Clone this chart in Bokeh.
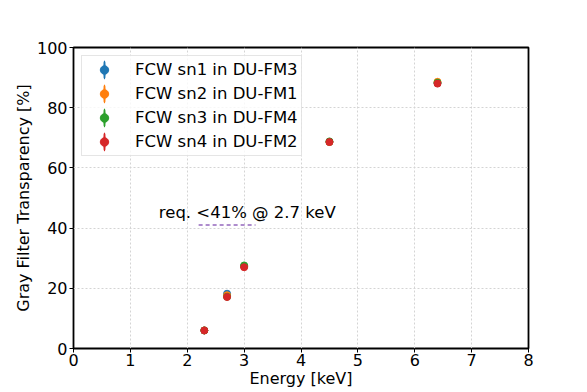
from bokeh.plotting import figure
from bokeh.models import Legend, LegendItem, Label, Range1d, FixedTicker
from bokeh.embed import file_html
from bokeh.resources import INLINE

energy = [2.3, 2.7, 3.0, 4.5, 6.4]
sn1_fm3 = [6.0, 18.2, 27.3, 68.6, 88.2]
sn2_fm1 = [6.0, 17.7, 27.3, 68.6, 88.6]
sn3_fm4 = [6.0, 17.2, 27.6, 68.8, 88.3]
sn4_fm2 = [6.0, 17.1, 27.0, 68.6, 88.0]
series_names = ["FCW sn1 in DU-FM3", "FCW sn2 in DU-FM1", "FCW sn3 in DU-FM4", "FCW sn4 in DU-FM2"]
series_values = [sn1_fm3, sn2_fm1, sn3_fm4, sn4_fm2]
colors = ["#1f77b4", "#ff7f0e", "#2ca02c", "#d62728"]
req_x = [2.2, 3.2]
req_y = [41, 41]
req_label_pos = (1.5, 45.2)
req_text = "req. <41% @ 2.7 keV"
x_ticks = [0, 1, 2, 3, 4, 5, 6, 7, 8]
y_ticks = [0, 20, 40, 60, 80, 100]

FONT = "DejaVu Sans"

p = figure(width=580, height=392, output_backend="svg", toolbar_location=None,
           x_range=Range1d(0, 8), y_range=Range1d(0, 100),
           min_border_left=73, min_border_right=52, min_border_top=47, min_border_bottom=44)
p.background_fill_color = "white"
p.border_fill_color = "white"
p.outline_line_color = "black"
p.outline_line_width = 1.8

p.xaxis.ticker = FixedTicker(ticks=x_ticks)
p.yaxis.ticker = FixedTicker(ticks=y_ticks)
for ax in (p.xaxis[0], p.yaxis[0]):
    ax.axis_line_color = None
    ax.major_tick_out = 4
    ax.major_tick_in = 0
    ax.minor_tick_line_color = None
    ax.major_tick_line_color = "black"
    ax.major_label_text_font = FONT
    ax.major_label_text_font_size = "16px"
    ax.major_label_text_color = "black"
    ax.axis_label_text_font = FONT
    ax.axis_label_text_font_size = "16px"
    ax.axis_label_text_font_style = "normal"
    ax.axis_label_text_color = "black"
p.xaxis.axis_label = "Energy [keV]"
p.yaxis.axis_label = "Gray Filter Transparency [%]"
p.xaxis.major_label_standoff = 1
p.yaxis.major_label_standoff = 2
p.xaxis.axis_label_standoff = 0
p.yaxis.axis_label_standoff = 1

p.grid.grid_line_color = "#d4d4d4"
p.grid.grid_line_dash = "2 2"
p.grid.grid_line_width = 1

items = []
for name, vals, c in zip(series_names, series_values, colors):
    eb = p.ellipse(energy, vals, width=0.1, height=4, width_units="screen", height_units="screen",
                   fill_color=c, line_color=c, line_width=2)
    pt = p.scatter(energy, vals, marker="circle", size=7, fill_color=c, line_color=c)
    items.append(LegendItem(label=name, renderers=[eb, pt]))

p.line(req_x, req_y, line_color="#9467bd", line_dash="4 3", line_width=1.5)
p.add_layout(Label(x=req_label_pos[0], y=req_label_pos[1], text=req_text, text_font=FONT,
                   text_font_size="16.5px", text_color="black", text_baseline="alphabetic"))

legend = Legend(items=items, location="top_left")
legend.label_text_font = FONT
legend.label_text_font_size = "16.5px"
legend.label_text_color = "black"
legend.glyph_width = 38
legend.glyph_height = 21
legend.spacing = 3
legend.padding = 3
legend.margin = 8
legend.label_standoff = 12
legend.border_line_color = "#cccccc"
legend.border_line_width = 1
legend.background_fill_alpha = 0.8
p.add_layout(legend)

open("out.html", "w").write(file_html(p, INLINE))
